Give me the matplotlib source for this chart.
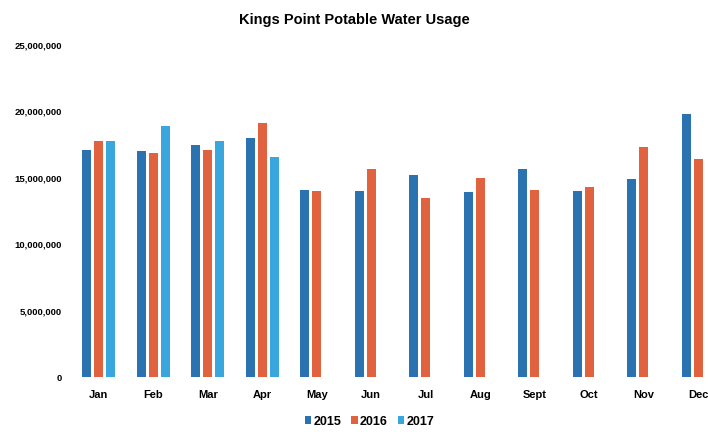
import numpy as np
import matplotlib.pyplot as plt

plt.rcParams['font.family'] = ['Liberation Sans Narrow', 'Liberation Sans', 'DejaVu Sans']

# Monthly potable water usage (millions of gallons)
months = ['Jan', 'Feb', 'Mar', 'Apr', 'May', 'Jun', 'Jul', 'Aug', 'Sept', 'Oct', 'Nov', 'Dec']
usage_2015 = [17.1, 17.0, 17.5, 18.0, 14.1, 14.0, 15.2, 13.9, 15.7, 14.0, 14.9, 19.8]
usage_2016 = [17.8, 16.9, 17.1, 19.1, 14.0, 15.7, 13.5, 15.0, 14.1, 14.3, 17.3, 16.4]
usage_2017 = [17.8, 18.9, 17.8, 16.6, None, None, None, None, None, None, None, None]
years = ['2015', '2016', '2017']
colors = ['#2B73B0', '#E0623F', '#3AA6DE']

series = [usage_2015, usage_2016, usage_2017]

fig = plt.figure(figsize=(7.08, 4.41), dpi=100)
ax = fig.add_axes([0.101, 0.145, 0.899, 0.753])

x = np.arange(len(months))
width = 0.165
step = 0.22
for i, (vals, year, col) in enumerate(zip(series, years, colors)):
    v = np.array([np.nan if a is None else a * 1e6 for a in vals])
    ax.bar(x + (i - 1) * step, v, width=width, color=col, label=year)

ax.set_ylim(0, 25e6)
ax.set_xlim(-0.5, 11.18)
ax.set_yticks(np.arange(0, 25e6 + 1, 5e6))
ax.set_yticklabels(['0', '5,000,000', '10,000,000', '15,000,000', '20,000,000', '25,000,000'],
                   fontsize=6.8, fontweight='bold')
ax.set_xticks(x)
ax.set_xticklabels(months, fontsize=8, fontweight='bold')
ax.tick_params(length=0, axis='y', pad=7)
ax.tick_params(length=0, axis='x', pad=9)
for s in ax.spines.values():
    s.set_visible(False)

fig.suptitle('Kings Point Potable Water Usage', x=0.5, y=0.97, fontsize=10.5, fontweight='bold')
leg = fig.legend(loc='lower center', bbox_to_anchor=(0.522, 0.005), ncol=3, frameon=False,
                 handlelength=0.5, handleheight=0.6, handletextpad=0.2, columnspacing=0.8,
                 prop={'weight': 'bold', 'size': 9})

plt.savefig('out.png', dpi=100)
